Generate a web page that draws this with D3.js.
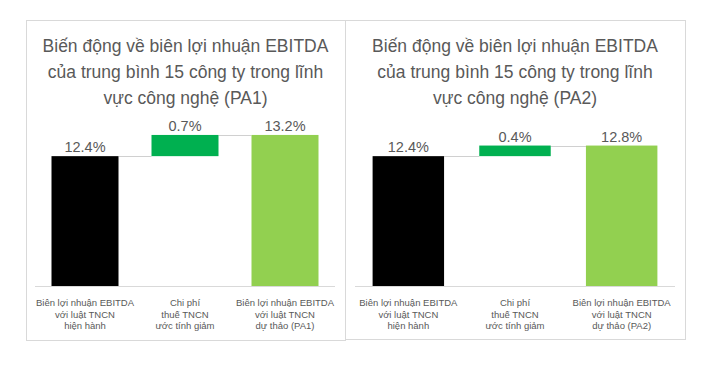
<!DOCTYPE html>
<html>
<head>
<meta charset="utf-8">
<script src="https://cdn.jsdelivr.net/npm/d3@7"></script>
<style>
  body { margin: 0; background: #fff; }
  svg text { font-family: "Liberation Sans", Arial, sans-serif; }
</style>
</head>
<body>
<svg id="chart" width="705" height="366"></svg>
<script>
const svg = d3.select("#chart");

// data
const scenarios = ["PA1", "PA2"];
const baseMargin = [12.4, 12.4];
const taxSaving = [0.7, 0.4];
const draftMargin = [13.2, 12.8];
const categoryLabels = [
  ["Biên lợi nhuận EBITDA", "với luật TNCN", "hiện hành"],
  ["Chi phí", "thuế TNCN", "ước tính giảm"],
  ["Biên lợi nhuận EBITDA", "với luật TNCN", "dự thảo (PA)"]
];
const barColors = ["#000000", "#00B050", "#92D050"];

// layout of the two panels
const boxes = [
  { x: 26, y: 20, w: 319, h: 320, plotX0: 35, plotX1: 335 },
  { x: 345, y: 20, w: 340, h: 319, plotX0: 355, plotX1: 675 }
];
const baseY = 286;

const y = d3.scaleLinear().domain([7.5, 13.5]).range([baseY, 127]).clamp(true);

scenarios.forEach((pa, i) => {
  const box = boxes[i];
  const g = svg.append("g");

  g.append("rect")
    .attr("x", box.x + 0.5)
    .attr("y", box.y + 0.5)
    .attr("width", box.w)
    .attr("height", box.h)
    .attr("fill", "#fff")
    .attr("stroke", "#d9d9d9");

  // title
  const titleLines = [
    "Biến động về biên lợi nhuận EBITDA",
    "của trung bình 15 công ty trong lĩnh",
    "vực công nghệ (" + pa + ")"
  ];
  g.selectAll(".title")
    .data(titleLines)
    .enter()
    .append("text")
    .attr("x", box.x + box.w / 2)
    .attr("y", (d, k) => 52 + k * 26)
    .attr("text-anchor", "middle")
    .attr("font-size", "17.5px")
    .attr("fill", "#595959")
    .text((d) => d);

  const labels = categoryLabels.map((l, k) =>
    k === 2 ? [l[0], l[1], "dự thảo (" + pa + ")"] : l
  );

  const x = d3.scaleBand()
    .domain(d3.range(3))
    .range([box.plotX0, box.plotX1])
    .paddingInner(0.33)
    .paddingOuter(0.165);

  const steps = [
    { start: 0, end: baseMargin[i], label: baseMargin[i] },
    { start: baseMargin[i], end: draftMargin[i], label: taxSaving[i] },
    { start: 0, end: draftMargin[i], label: draftMargin[i] }
  ];

  // baseline
  g.append("line")
    .attr("x1", box.plotX0)
    .attr("x2", box.plotX1)
    .attr("y1", baseY + 0.5)
    .attr("y2", baseY + 0.5)
    .attr("stroke", "#d9d9d9");

  // connectors
  steps.slice(0, 2).forEach((s, k) => {
    g.append("line")
      .attr("x1", x(k) + x.bandwidth())
      .attr("x2", x(k + 1))
      .attr("y1", Math.round(y(s.end)) + 0.5)
      .attr("y2", Math.round(y(s.end)) + 0.5)
      .attr("stroke", "#d0d0d0");
  });

  g.selectAll(".bar")
    .data(steps)
    .enter()
    .append("rect")
    .attr("x", (d, k) => x(k))
    .attr("y", (d) => y(Math.max(d.start, d.end)))
    .attr("width", x.bandwidth())
    .attr("height", (d) => Math.abs(y(d.start) - y(d.end)))
    .attr("fill", (d, k) => barColors[k]);

  g.selectAll(".val")
    .data(steps)
    .enter()
    .append("text")
    .attr("x", (d, k) => x(k) + x.bandwidth() / 2)
    .attr("y", (d) => y(Math.max(d.start, d.end)) - 4)
    .attr("text-anchor", "middle")
    .attr("font-size", "14.5px")
    .attr("fill", "#595959")
    .text((d) => d.label.toFixed(1) + "%");

  labels.forEach((lines, k) => {
    g.selectAll(null)
      .data(lines)
      .enter()
      .append("text")
      .attr("x", x(k) + x.bandwidth() / 2)
      .attr("y", (d, j) => 306 + j * 11.5)
      .attr("text-anchor", "middle")
      .attr("font-size", "9.5px")
      .attr("fill", "#595959")
      .text((d) => d);
  });
});
</script>
</body>
</html>
